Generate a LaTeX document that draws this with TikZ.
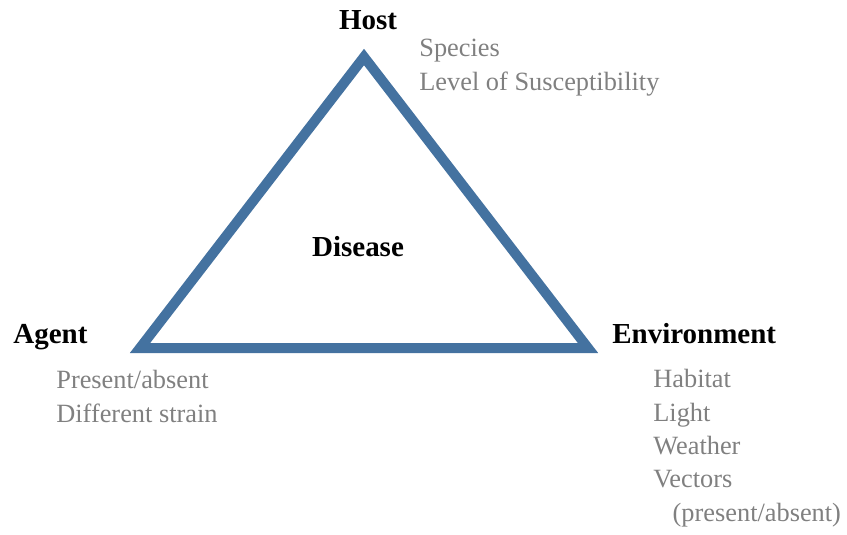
\documentclass[tikz,border=0pt]{standalone}
\usepackage{fontspec}
\setmainfont{Liberation Serif}
\definecolor{triblue}{RGB}{68,114,160}
\definecolor{notegray}{RGB}{128,128,128}

\begin{document}
\begin{tikzpicture}[x=0.02cm, y=-0.02cm,
    corner/.style={font=\fontsize{16.5}{19}\selectfont\bfseries, anchor=base west, inner sep=0pt},
    note/.style={font=\fontsize{15}{19}\selectfont, text=notegray, anchor=north west, inner sep=0pt, align=left}]

\useasboundingbox (0, 0) rectangle (847, 534);

% ── Triangle ──
\coordinate (top) at (364, 57);
\coordinate (left) at (140, 348);
\coordinate (right) at (588, 348);
\draw[triblue, line width=5.7pt, miter limit=10] (top) -- (left) -- (right) -- cycle;

% ── Centre ──
\node[corner, anchor=center] (disease) at (358, 247) {Disease};

% ── Host ──
\node[corner, anchor=base] (host) at (368, 30) {Host};
\node[note] (hostnotes) at (419, 39) {Species\\Level of Susceptibility};

% ── Agent ──
\node[corner] (agent) at (13, 343) {Agent};
\node[note] (agentnotes) at (56, 370) {Present/absent\\Different strain};

% ── Environment ──
\node[corner] (env) at (612, 343) {Environment};
\node[note] (envnotes) at (653, 369) {Habitat\\Light\\Weather\\Vectors\\\hspace*{11pt}(present/absent)};

\end{tikzpicture}
\end{document}
